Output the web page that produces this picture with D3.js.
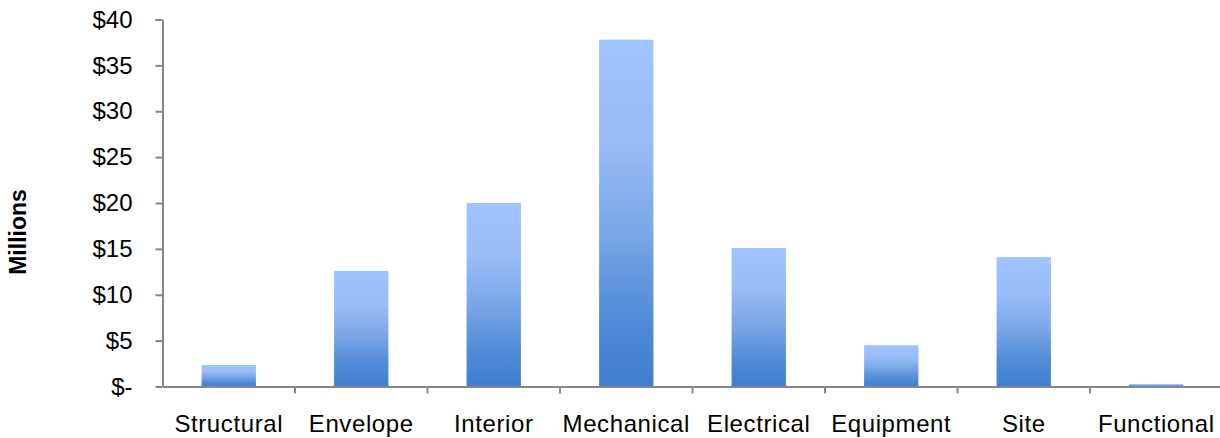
<!DOCTYPE html>
<html>
<head>
<meta charset="utf-8">
<script src="https://cdn.jsdelivr.net/npm/d3@7/dist/d3.min.js"></script>
<style>
  html, body { margin: 0; padding: 0; background: #fff; }
  svg { display: block; }
  text { font-family: "Liberation Sans", Arial, sans-serif; fill: #000; }
</style>
</head>
<body>
<svg id="chart" width="1220" height="438"></svg>
<script>
// Cost by building system, in millions of dollars
const categories = ["Structural", "Envelope", "Interior", "Mechanical", "Electrical", "Equipment", "Site", "Functional"];
const values = [2.35, 12.6, 20.0, 37.8, 15.1, 4.5, 14.1, 0.27];
const yTicks = [0, 5, 10, 15, 20, 25, 30, 35, 40];
const yTickLabels = ["$-", "$5", "$10", "$15", "$20", "$25", "$30", "$35", "$40"];
const yTitle = "Millions";

const svg = d3.select("#chart");
const W = 1220, H = 438;
const plotLeft = 162.5, plotRight = 1222.5, plotTop = 19.5, plotBottom = 386.5;

const x = d3.scaleBand()
  .domain(categories)
  .range([plotLeft, plotRight])
  .paddingInner(0.59)
  .paddingOuter(0.295);

const y = d3.scaleLinear()
  .domain([0, 40])
  .range([plotBottom, plotTop]);

// vertical gradient for every bar: light blue on top, deeper blue at the base
const defs = svg.append("defs");
const grad = defs.append("linearGradient")
  .attr("id", "barFill")
  .attr("x1", 0).attr("y1", 0).attr("x2", 0).attr("y2", 1);
[[0, "#A0C4FF"], [0.3, "#97BCF8"], [0.55, "#7BA7E7"], [0.8, "#518CD7"], [1, "#3E7ECE"]]
  .forEach(([o, c]) => grad.append("stop").attr("offset", o).attr("stop-color", c));

// bars
svg.append("g")
  .selectAll("rect")
  .data(categories)
  .join("rect")
  .attr("x", d => x(d))
  .attr("width", x.bandwidth())
  .attr("y", (d, i) => y(values[i]))
  .attr("height", (d, i) => y(0) - y(values[i]))
  .attr("fill", "url(#barFill)");

const axisColor = "#868686";

// y axis
const yAxis = svg.append("g")
  .attr("transform", `translate(${plotLeft},0)`)
  .call(d3.axisLeft(y)
    .tickValues(yTicks)
    .tickFormat((d, i) => yTickLabels[i])
    .tickSizeInner(7)
    .tickSizeOuter(0)
    .tickPadding(23));
yAxis.select(".domain").attr("stroke", axisColor).attr("stroke-width", 2);
yAxis.selectAll(".tick line").attr("stroke", axisColor).attr("stroke-width", 2);
yAxis.selectAll(".tick text")
  .style("font-size", "24px")
  .attr("fill", "#000");

// x axis: ticks sit between categories
const xAxis = svg.append("g")
  .attr("transform", `translate(0,${y(0)})`)
  .call(d3.axisBottom(x).tickSize(0).tickPadding(28));
xAxis.select(".domain").attr("stroke", axisColor).attr("stroke-width", 2);
xAxis.selectAll(".tick text")
  .style("font-size", "24px")
  .style("letter-spacing", "0.6px")
  .attr("fill", "#000");

const step = x.step();
const boundaries = d3.range(1, categories.length + 1).map(i => plotLeft + i * step);
xAxis.append("g")
  .selectAll("line")
  .data(boundaries)
  .join("line")
  .attr("x1", d => d).attr("x2", d => d)
  .attr("y1", 0).attr("y2", 7)
  .attr("stroke", axisColor)
  .attr("stroke-width", 2);

// y axis title
svg.append("text")
  .attr("transform", "translate(18,232) rotate(-90)")
  .attr("text-anchor", "middle")
  .attr("dominant-baseline", "central")
  .style("font-size", "23px")
  .style("font-weight", "bold")
  .text(yTitle);
</script>
</body>
</html>
